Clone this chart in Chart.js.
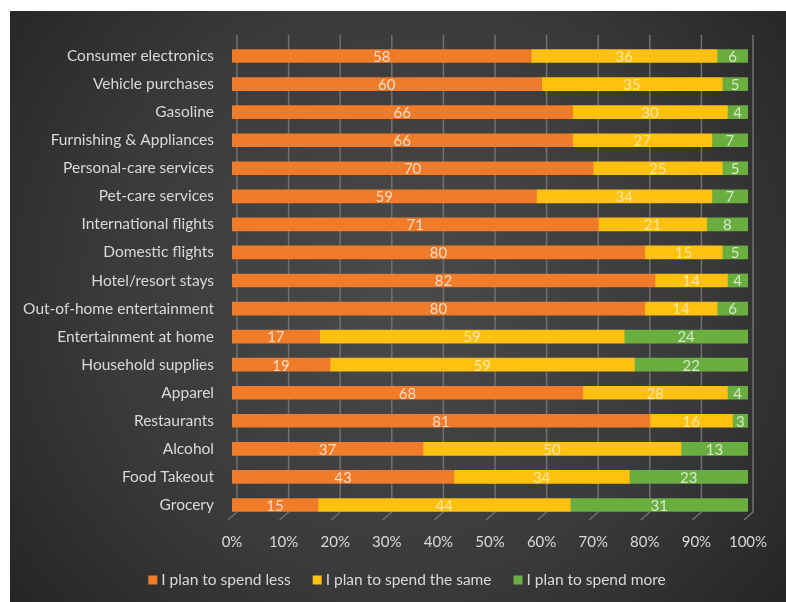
<!DOCTYPE html>
<html>
<head>
<meta charset="utf-8">
<script src="https://cdn.jsdelivr.net/npm/chart.js@4.4.1/dist/chart.umd.min.js"></script>
<style>
html,body{margin:0;padding:0;background:#fff;}
#wrap{position:absolute;left:0;top:0;width:786px;height:602px;}
</style>
</head>
<body>
<div id="wrap"><canvas id="c" width="786" height="602"></canvas></div>
<script>
const categories = ["Consumer electronics","Vehicle purchases","Gasoline","Furnishing & Appliances","Personal-care services","Pet-care services","International flights","Domestic flights","Hotel/resort stays","Out-of-home entertainment","Entertainment at home","Household supplies","Apparel","Restaurants","Alcohol","Food Takeout","Grocery"];
const spendLess = [58,60,66,66,70,59,71,80,82,80,17,19,68,81,37,43,15];
const spendSame = [36,35,30,27,25,34,21,15,14,14,59,59,28,16,50,34,44];
const spendMore = [6,5,4,7,5,7,8,5,4,6,24,22,4,3,13,23,31];
const seriesNames = ["I plan to spend less","I plan to spend the same","I plan to spend more"];
const xTicks = [0,10,20,30,40,50,60,70,80,90,100];

const totals = categories.map((_, i) => spendLess[i] + spendSame[i] + spendMore[i]);
const pct = arr => arr.map((v, i) => v / totals[i] * 100);
const FONT = "Lato, 'Open Sans', sans-serif";
const colors = ['#F07B28', '#FFC110', '#6AAE40'];
const rawSets = [spendLess, spendSame, spendMore];

const bgPlugin = {
  id: 'bg',
  beforeDraw(chart) {
    const ctx = chart.ctx;
    ctx.save();
    ctx.fillStyle = '#ffffff';
    ctx.fillRect(0, 0, 786, 602);
    const g = ctx.createRadialGradient(400, 290, 20, 400, 290, 520);
    g.addColorStop(0, '#494949');
    g.addColorStop(0.55, '#3a3a3a');
    g.addColorStop(1, '#232323');
    ctx.fillStyle = g;
    ctx.fillRect(10, 11, 776, 591);
    ctx.restore();
  }
};

const gridPlugin = {
  id: 'grid3d',
  beforeDatasetsDraw(chart) {
    const ctx = chart.ctx, xs = chart.scales.x, area = chart.chartArea;
    ctx.save();
    ctx.strokeStyle = '#707070';
    ctx.lineWidth = 1.5;
    xTicks.forEach(t => {
      const x = xs.getPixelForValue(t);
      ctx.beginPath();
      ctx.moveTo(x + 5, area.top - 7);
      ctx.lineTo(x + 5, area.bottom - 7);
      ctx.lineTo(x - 4, area.bottom + 1);
      ctx.stroke();
    });
    ctx.restore();
  }
};

const labelPlugin = {
  id: 'vals',
  afterDatasetsDraw(chart) {
    const ctx = chart.ctx;
    ctx.save();
    ctx.font = '15px ' + FONT;
    ctx.textAlign = 'center';
    ctx.textBaseline = 'middle';
    chart.data.datasets.forEach((ds, di) => {
      const meta = chart.getDatasetMeta(di);
      meta.data.forEach((bar, i) => {
        const cx = (bar.x + bar.base) / 2;
        ctx.fillStyle = di === 1 ? 'rgba(255,255,255,0.62)' : 'rgba(255,255,255,0.72)';
        ctx.fillText(String(ds.raw[i]), cx, bar.y + 1);
      });
    });
    ctx.restore();
  }
};

const legendPlugin = {
  id: 'legend2',
  afterDraw(chart) {
    const ctx = chart.ctx;
    ctx.save();
    ctx.font = '15.5px ' + FONT;
    ctx.textBaseline = 'middle';
    const box = 9, gapText = 4, gapItem = 22;
    const widths = seriesNames.map(n => ctx.measureText(n).width);
    const total = widths.reduce((a, w) => a + box + gapText + w, 0) + gapItem * (seriesNames.length - 1);
    let x = 407 - total / 2;
    const y = 580;
    seriesNames.forEach((n, k) => {
      ctx.fillStyle = colors[k];
      ctx.fillRect(x, y - box / 2, box, box);
      x += box + gapText;
      ctx.fillStyle = '#d9d9d9';
      ctx.fillText(n, x, y);
      x += widths[k] + gapItem;
    });
    ctx.restore();
  }
};

new Chart(document.getElementById('c'), {
  type: 'bar',
  data: {
    labels: categories,
    datasets: rawSets.map((arr, k) => ({
      label: seriesNames[k],
      data: pct(arr),
      raw: arr,
      backgroundColor: colors[k],
      borderWidth: 0,
      barThickness: 13
    }))
  },
  options: {
    indexAxis: 'y',
    responsive: false,
    animation: false,
    devicePixelRatio: 1,
    layout: { padding: { left: 10, top: 42, right: 38, bottom: 42 } },
    scales: {
      x: {
        stacked: true,
        min: 0, max: 100,
        afterFit(s) { s.height = 41; },
        afterBuildTicks(s) { s.ticks = xTicks.map(v => ({ value: v })); },
        grid: { display: false, drawTicks: false },
        border: { display: false },
        ticks: {
          padding: 14,
          color: '#d9d9d9',
          font: { family: FONT, size: 15 },
          callback: v => v + '%'
        }
      },
      y: {
        stacked: true,
        afterFit(s) { s.width = 222; },
        grid: { display: false, drawTicks: false },
        border: { display: false },
        ticks: {
          padding: 18,
          color: '#d9d9d9',
          font: { family: FONT, size: 15.5 }
        }
      }
    },
    plugins: {
      legend: { display: false },
      tooltip: { enabled: false }
    }
  },
  plugins: [bgPlugin, gridPlugin, labelPlugin, legendPlugin]
});
</script>
</body>
</html>
